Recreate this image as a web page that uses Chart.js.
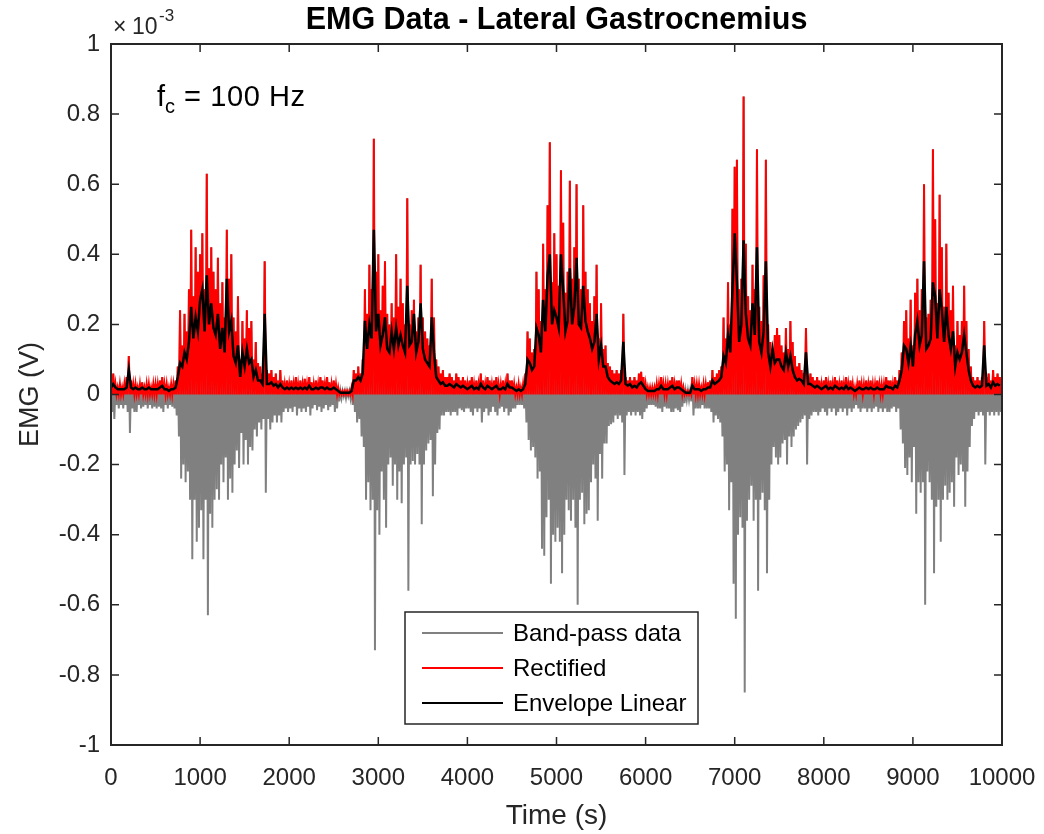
<!DOCTYPE html>
<html>
<head>
<meta charset="utf-8">
<script src="https://cdn.jsdelivr.net/npm/chart.js@4.4.1/dist/chart.umd.min.js"></script>
<style>
  html, body { margin: 0; padding: 0; background: #ffffff; }
  #wrap { width: 1044px; height: 834px; position: relative; }
</style>
</head>
<body>
<div id="wrap"><canvas id="c" width="1044" height="834"></canvas></div>
<script>
// ---- Data (units of 1e-3 V), one value per 25 s bin, t = 0 ... 9975 s ----
const binSeconds = 25;

// peak of the rectified signal in each bin
const rectified = [
  0.04,0.06,0.03,0.02,0.03,0.02,0.03,0.05,0.11,0.04,0.03,0.03,0.02,0.03,0.035,0.02,0.03,0.03,0.02,0.03,
  0.03,0.03,0.04,0.05,0.03,0.03,0.02,0.03,0.03,0.04,0.08,0.24,0.14,0.23,0.18,0.30,0.47,0.28,0.42,0.35,
  0.40,0.46,0.30,0.63,0.36,0.42,0.35,0.30,0.39,0.26,0.32,0.22,0.47,0.33,0.40,0.22,0.18,0.28,0.10,0.21,
  0.16,0.24,0.19,0.21,0.10,0.15,0.09,0.08,0.06,0.38,0.07,0.06,0.07,0.05,0.06,0.04,0.07,0.04,0.03,0.04,
  0.03,0.04,0.03,0.05,0.03,0.04,0.03,0.045,0.03,0.05,0.035,0.03,0.04,0.03,0.05,0.04,0.03,0.05,0.035,0.03,
  0.04,0.03,0.02,0.01,0.01,0.01,0.01,0.01,0.02,0.07,0.06,0.08,0.06,0.10,0.30,0.23,0.37,0.30,0.73,0.35,
  0.40,0.24,0.31,0.38,0.23,0.20,0.26,0.22,0.40,0.25,0.33,0.26,0.20,0.56,0.20,0.24,0.27,0.18,0.22,0.37,
  0.22,0.18,0.16,0.14,0.33,0.22,0.10,0.08,0.06,0.07,0.05,0.05,0.06,0.05,0.04,0.06,0.05,0.04,0.05,0.04,
  0.03,0.04,0.05,0.03,0.04,0.03,0.06,0.04,0.03,0.05,0.04,0.03,0.04,0.05,0.03,0.03,0.04,0.03,0.06,0.04,
  0.04,0.03,0.02,0.03,0.02,0.03,0.06,0.18,0.16,0.12,0.13,0.35,0.30,0.21,0.43,0.30,0.54,0.72,0.32,0.46,
  0.40,0.31,0.64,0.49,0.29,0.35,0.61,0.33,0.42,0.60,0.33,0.30,0.54,0.35,0.30,0.26,0.21,0.28,0.37,0.16,
  0.26,0.13,0.14,0.09,0.08,0.07,0.06,0.07,0.06,0.07,0.23,0.05,0.04,0.05,0.04,0.05,0.04,0.06,0.065,0.05,
  0.03,0.02,0.02,0.02,0.02,0.03,0.03,0.05,0.03,0.03,0.03,0.04,0.05,0.03,0.04,0.04,0.03,0.02,0.01,0.01,
  0.01,0.05,0.03,0.03,0.03,0.02,0.03,0.03,0.035,0.04,0.07,0.05,0.06,0.07,0.08,0.22,0.16,0.32,0.20,0.53,
  0.65,0.67,0.30,0.33,0.85,0.43,0.28,0.24,0.37,0.30,0.70,0.25,0.21,0.34,0.67,0.20,0.15,0.13,0.17,0.19,
  0.17,0.14,0.12,0.19,0.13,0.21,0.15,0.11,0.08,0.09,0.07,0.06,0.19,0.05,0.06,0.05,0.04,0.05,0.04,0.03,
  0.04,0.05,0.03,0.04,0.03,0.05,0.04,0.03,0.04,0.03,0.05,0.03,0.04,0.03,0.02,0.03,0.04,0.03,0.03,0.04,
  0.03,0.04,0.03,0.03,0.04,0.03,0.03,0.03,0.05,0.04,0.04,0.03,0.05,0.04,0.07,0.12,0.21,0.24,0.16,0.27,
  0.14,0.29,0.33,0.24,0.30,0.60,0.22,0.23,0.27,0.70,0.50,0.26,0.57,0.42,0.25,0.43,0.29,0.24,0.31,0.14,
  0.21,0.17,0.21,0.31,0.21,0.13,0.08,0.05,0.04,0.05,0.04,0.05,0.21,0.05,0.06,0.04,0.07,0.05,0.06,0.05
];

// most negative band-pass excursion in each bin
const bandPassMin = [
  -0.05,-0.07,-0.03,-0.04,-0.03,-0.04,-0.03,-0.05,-0.11,-0.04,-0.05,-0.05,-0.03,-0.04,-0.035,-0.03,-0.04,-0.03,-0.04,-0.035,
  -0.04,-0.035,-0.04,-0.05,-0.03,-0.04,-0.03,-0.035,-0.04,-0.06,-0.12,-0.24,-0.2,-0.25,-0.22,-0.3,-0.47,-0.3,-0.42,-0.38,
  -0.33,-0.47,-0.3,-0.63,-0.34,-0.38,-0.3,-0.27,-0.3,-0.2,-0.25,-0.18,-0.3,-0.24,-0.28,-0.2,-0.16,-0.21,-0.11,-0.2,
  -0.13,-0.2,-0.15,-0.16,-0.1,-0.12,-0.08,-0.1,-0.07,-0.28,-0.07,-0.1,-0.08,-0.06,-0.08,-0.06,-0.08,-0.05,-0.04,-0.05,
  -0.04,-0.05,-0.035,-0.06,-0.04,-0.05,-0.04,-0.05,-0.035,-0.06,-0.04,-0.03,-0.045,-0.035,-0.05,-0.04,-0.03,-0.045,-0.035,-0.03,
  -0.05,-0.04,-0.02,-0.01,-0.005,-0.01,-0.005,-0.01,-0.03,-0.05,-0.08,-0.07,-0.12,-0.15,-0.3,-0.25,-0.33,-0.3,-0.73,-0.33,
  -0.40,-0.22,-0.30,-0.38,-0.2,-0.18,-0.26,-0.2,-0.3,-0.22,-0.31,-0.2,-0.18,-0.56,-0.2,-0.19,-0.2,-0.17,-0.2,-0.37,
  -0.2,-0.16,-0.14,-0.13,-0.29,-0.2,-0.11,-0.1,-0.06,-0.06,-0.05,-0.05,-0.06,-0.05,-0.05,-0.06,-0.04,-0.045,-0.05,-0.04,
  -0.04,-0.05,-0.06,-0.04,-0.05,-0.04,-0.08,-0.05,-0.04,-0.06,-0.05,-0.035,-0.05,-0.06,-0.04,-0.035,-0.05,-0.04,-0.06,-0.05,
  -0.04,-0.04,-0.03,-0.03,-0.03,-0.04,-0.08,-0.13,-0.16,-0.15,-0.18,-0.24,-0.22,-0.44,-0.46,-0.35,-0.3,-0.54,-0.4,-0.42,
  -0.38,-0.42,-0.51,-0.4,-0.3,-0.33,-0.36,-0.3,-0.38,-0.60,-0.3,-0.28,-0.37,-0.34,-0.33,-0.25,-0.2,-0.24,-0.36,-0.17,
  -0.24,-0.14,-0.14,-0.09,-0.085,-0.08,-0.06,-0.07,-0.06,-0.08,-0.23,-0.06,-0.05,-0.06,-0.05,-0.06,-0.05,-0.06,-0.07,-0.05,
  -0.04,-0.03,-0.03,-0.03,-0.035,-0.04,-0.04,-0.05,-0.035,-0.04,-0.04,-0.05,-0.05,-0.04,-0.045,-0.05,-0.035,-0.025,-0.015,-0.015,
  -0.02,-0.06,-0.04,-0.04,-0.04,-0.03,-0.04,-0.04,-0.04,-0.05,-0.08,-0.06,-0.07,-0.08,-0.12,-0.22,-0.2,-0.33,-0.25,-0.54,
  -0.64,-0.4,-0.35,-0.38,-0.85,-0.36,-0.3,-0.26,-0.36,-0.3,-0.56,-0.3,-0.28,-0.33,-0.51,-0.3,-0.2,-0.15,-0.18,-0.2,
  -0.18,-0.14,-0.13,-0.2,-0.12,-0.15,-0.12,-0.1,-0.09,-0.08,-0.07,-0.06,-0.2,-0.07,-0.06,-0.05,-0.05,-0.06,-0.05,-0.04,
  -0.05,-0.06,-0.04,-0.05,-0.04,-0.06,-0.05,-0.04,-0.05,-0.04,-0.06,-0.04,-0.05,-0.04,-0.03,-0.04,-0.05,-0.04,-0.04,-0.05,
  -0.04,-0.05,-0.04,-0.035,-0.05,-0.04,-0.05,-0.04,-0.05,-0.05,-0.04,-0.035,-0.05,-0.04,-0.1,-0.14,-0.21,-0.23,-0.18,-0.25,
  -0.15,-0.34,-0.25,-0.28,-0.25,-0.60,-0.22,-0.25,-0.3,-0.51,-0.32,-0.3,-0.42,-0.3,-0.26,-0.3,-0.28,-0.25,-0.32,-0.18,
  -0.23,-0.2,-0.22,-0.32,-0.22,-0.15,-0.09,-0.07,-0.05,-0.06,-0.05,-0.06,-0.2,-0.05,-0.06,-0.05,-0.06,-0.05,-0.06,-0.05
];

// linear envelope value in each bin
const envelope = [
  0.02,0.03,0.02,0.015,0.015,0.015,0.015,0.02,0.07,0.02,0.015,0.02,0.015,0.015,0.02,0.015,0.015,0.02,0.015,0.015,
  0.015,0.015,0.02,0.025,0.015,0.015,0.01,0.015,0.015,0.02,0.05,0.09,0.08,0.12,0.10,0.15,0.25,0.16,0.22,0.18,
  0.27,0.30,0.18,0.34,0.20,0.26,0.19,0.17,0.23,0.13,0.19,0.12,0.33,0.18,0.21,0.11,0.09,0.14,0.05,0.12,
  0.08,0.13,0.09,0.10,0.05,0.07,0.04,0.04,0.03,0.23,0.03,0.03,0.035,0.025,0.03,0.02,0.03,0.02,0.015,0.02,
  0.015,0.02,0.015,0.02,0.015,0.02,0.015,0.02,0.015,0.025,0.015,0.015,0.02,0.015,0.02,0.02,0.015,0.02,0.015,0.015,
  0.02,0.015,0.01,0.005,0.005,0.005,0.005,0.005,0.01,0.04,0.04,0.05,0.04,0.06,0.21,0.13,0.20,0.16,0.47,0.18,
  0.23,0.14,0.17,0.22,0.13,0.12,0.18,0.13,0.19,0.14,0.17,0.14,0.12,0.31,0.14,0.15,0.23,0.12,0.15,0.26,
  0.13,0.10,0.09,0.08,0.22,0.12,0.05,0.04,0.03,0.035,0.025,0.025,0.03,0.025,0.02,0.03,0.025,0.02,0.025,0.02,
  0.015,0.02,0.025,0.015,0.02,0.015,0.03,0.02,0.015,0.025,0.02,0.015,0.02,0.025,0.015,0.015,0.02,0.015,0.03,0.02,
  0.02,0.015,0.01,0.015,0.01,0.015,0.03,0.10,0.09,0.07,0.08,0.19,0.17,0.12,0.27,0.18,0.34,0.40,0.20,0.24,
  0.22,0.19,0.40,0.30,0.18,0.21,0.36,0.20,0.25,0.39,0.20,0.19,0.31,0.21,0.18,0.16,0.13,0.15,0.23,0.10,
  0.14,0.08,0.08,0.05,0.04,0.035,0.03,0.035,0.03,0.04,0.15,0.03,0.025,0.03,0.02,0.025,0.02,0.03,0.035,0.025,
  0.015,0.01,0.01,0.01,0.01,0.015,0.015,0.025,0.015,0.015,0.015,0.02,0.025,0.015,0.02,0.02,0.015,0.01,0.005,0.005,
  0.005,0.025,0.015,0.015,0.015,0.01,0.015,0.015,0.02,0.02,0.04,0.03,0.035,0.04,0.05,0.11,0.09,0.17,0.12,0.30,
  0.46,0.32,0.15,0.20,0.44,0.23,0.16,0.14,0.26,0.17,0.42,0.15,0.12,0.18,0.38,0.12,0.08,0.13,0.09,0.10,
  0.10,0.08,0.07,0.12,0.08,0.11,0.07,0.05,0.04,0.045,0.04,0.03,0.12,0.03,0.03,0.025,0.02,0.025,0.02,0.015,
  0.02,0.025,0.015,0.02,0.015,0.025,0.02,0.015,0.02,0.015,0.025,0.015,0.02,0.015,0.01,0.015,0.02,0.015,0.015,0.02,
  0.015,0.02,0.015,0.015,0.02,0.015,0.015,0.015,0.025,0.02,0.02,0.015,0.025,0.02,0.04,0.07,0.14,0.13,0.09,0.14,
  0.08,0.17,0.21,0.14,0.17,0.38,0.13,0.14,0.16,0.32,0.28,0.16,0.30,0.24,0.15,0.25,0.17,0.13,0.18,0.08,
  0.12,0.10,0.12,0.17,0.12,0.07,0.04,0.025,0.02,0.025,0.02,0.025,0.14,0.025,0.03,0.02,0.035,0.025,0.03,0.025
];

const xTicks = [0, 1000, 2000, 3000, 4000, 5000, 6000, 7000, 8000, 9000, 10000];
const yTicks = [-1, -0.8, -0.6, -0.4, -0.2, 0, 0.2, 0.4, 0.6, 0.8, 1];
const seriesNames = ['Band-pass data', 'Rectified', 'Envelope Linear'];
const seriesColors = ['#808080', '#ff0000', '#000000'];
const titleText = 'EMG Data - Lateral Gastrocnemius';
const xLabel = 'Time (s)';
const yLabel = 'EMG (V)';

// ---- build point lists for the library ----
const bandPassPts = [], rectPts = [], envPts = [];
rectified.forEach((r, i) => {
  const t = i * binSeconds;
  bandPassPts.push({ x: t, y: r }, { x: t + binSeconds / 2, y: bandPassMin[i] });
  rectPts.push({ x: t, y: r }, { x: t + binSeconds / 2, y: 0 });
  envPts.push({ x: t, y: envelope[i] });
});

const FONT = '"Liberation Sans", Arial, Helvetica, sans-serif';
const AX = '#262626';

const fmtY = v => {
  const r = Math.round(v * 10) / 10;
  return Math.abs(r) < 1e-9 ? '0' : String(r);
};

const matlabAxes = {
  id: 'matlabAxes',
  afterDatasetsDraw(chart) {
    const { ctx, chartArea: a, scales: { x, y } } = chart;
    ctx.save();
    ctx.strokeStyle = AX;
    ctx.lineWidth = 1.5;
    const L = 8;
    ctx.beginPath();
    xTicks.forEach(v => {
      const px = x.getPixelForValue(v);
      ctx.moveTo(px, a.bottom); ctx.lineTo(px, a.bottom - L);
      ctx.moveTo(px, a.top); ctx.lineTo(px, a.top + L);
    });
    yTicks.forEach(v => {
      const py = y.getPixelForValue(v);
      ctx.moveTo(a.left, py); ctx.lineTo(a.left + L, py);
      ctx.moveTo(a.right, py); ctx.lineTo(a.right - L, py);
    });
    ctx.stroke();
    ctx.lineWidth = 2;
    ctx.strokeRect(a.left, a.top, a.right - a.left, a.bottom - a.top);
    ctx.restore();
  },
  afterDraw(chart) {
    const { ctx, chartArea: a } = chart;
    ctx.save();
    // title
    ctx.fillStyle = '#000';
    ctx.textAlign = 'center';
    ctx.textBaseline = 'alphabetic';
    ctx.font = 'bold 30.5px ' + FONT;
    ctx.fillText(titleText, (a.left + a.right) / 2, 29);

    // exponent label
    ctx.fillStyle = AX;
    ctx.textAlign = 'left';
    ctx.font = '23px ' + FONT;
    ctx.fillText('\u00D7', a.left + 2, 34);
    ctx.fillText('10', a.left + 21, 34);
    ctx.font = '17px ' + FONT;
    ctx.fillText('-3', a.left + 48, 21);

    // cut-off annotation
    ctx.fillStyle = '#000';
    ctx.font = '29px ' + FONT;
    ctx.fillText('f', 157, 106);
    ctx.font = '20px ' + FONT;
    ctx.fillText('c', 165, 113);
    ctx.font = '29px ' + FONT;
    if ('letterSpacing' in ctx) ctx.letterSpacing = '0.6px';
    ctx.fillText('= 100 Hz', 184, 106);
    if ('letterSpacing' in ctx) ctx.letterSpacing = '0px';

    // legend
    const lx = 405, ly = 612, lw = 293, lh = 112;
    ctx.fillStyle = '#fff';
    ctx.fillRect(lx, ly, lw, lh);
    ctx.strokeStyle = AX;
    ctx.lineWidth = 1.5;
    ctx.strokeRect(lx, ly, lw, lh);
    const rows = [633, 668, 703];
    ctx.font = '24px ' + FONT;
    ctx.textBaseline = 'middle';
    seriesNames.forEach((name, i) => {
      ctx.strokeStyle = seriesColors[i];
      ctx.lineWidth = 2;
      ctx.beginPath();
      ctx.moveTo(422, rows[i]); ctx.lineTo(503, rows[i]);
      ctx.stroke();
      ctx.fillStyle = '#000';
      ctx.fillText(name, 513, rows[i] + 1);
    });
    ctx.restore();
  }
};

new Chart(document.getElementById('c'), {
  type: 'line',
  data: {
    datasets: [
      { label: seriesNames[0], data: bandPassPts, borderColor: seriesColors[0], borderWidth: 2, pointRadius: 0, tension: 0, order: 3 },
      { label: seriesNames[1], data: rectPts, borderColor: seriesColors[1], borderWidth: 2, pointRadius: 0, tension: 0, order: 2 },
      { label: seriesNames[2], data: envPts, borderColor: seriesColors[2], borderWidth: 2.5, pointRadius: 0, tension: 0, order: 1 }
    ]
  },
  options: {
    responsive: false,
    animation: false,
    devicePixelRatio: 1,
    parsing: false,
    normalized: true,
    layout: { padding: { top: 44, right: 42, left: 0, bottom: 0 } },
    plugins: { legend: { display: false }, tooltip: { enabled: false }, title: { display: false } },
    scales: {
      x: {
        type: 'linear', min: 0, max: 10000,
        afterBuildTicks(s) { s.ticks = xTicks.map(v => ({ value: v })); },
        afterFit(s) { s.height = 89; s.paddingLeft = 0; s.paddingRight = 0; },
        ticks: { autoSkip: false, maxRotation: 0, padding: 19, color: AX, font: { family: FONT, size: 24 }, callback: v => String(v) },
        grid: { display: false, drawTicks: false },
        border: { display: false },
        title: { display: true, text: xLabel, color: AX, font: { family: FONT, size: 28 }, padding: { top: 0, bottom: 1 } }
      },
      y: {
        type: 'linear', min: -1, max: 1,
        afterBuildTicks(s) { s.ticks = yTicks.map(v => ({ value: v })); },
        afterFit(s) { s.width = 111; s.paddingTop = 0; s.paddingBottom = 0; },
        ticks: { autoSkip: false, padding: 11, color: AX, font: { family: FONT, size: 24 }, callback: v => fmtY(v) },
        grid: { display: false, drawTicks: false },
        border: { display: false },
        title: { display: true, text: yLabel, color: AX, font: { family: FONT, size: 27 }, padding: { top: 14, bottom: 0 } }
      }
    }
  },
  plugins: [matlabAxes]
});
</script>
</body>
</html>
